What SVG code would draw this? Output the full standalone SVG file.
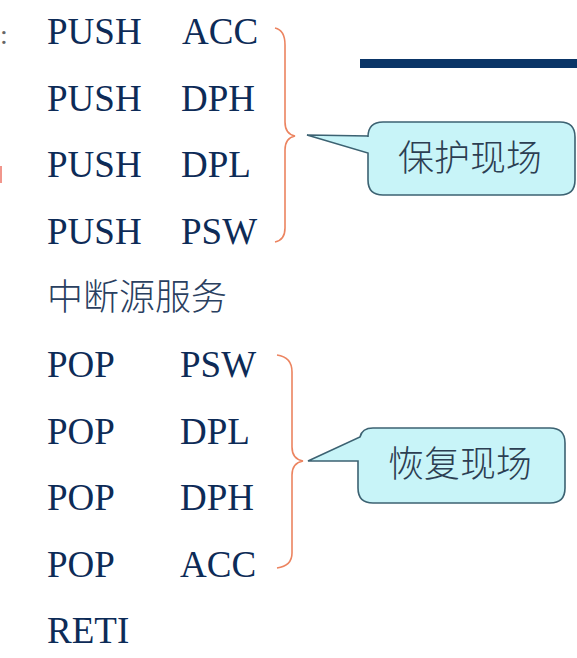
<svg xmlns="http://www.w3.org/2000/svg" width="577" height="658" viewBox="0 0 577 658">
<style>
.code{font-size:37px;fill:#0d2b57;}
.cn{font-family:"Noto Sans CJK SC",sans-serif;font-size:36px;fill:#2a4060;font-weight:300;}
.brace{fill:none;stroke:#ec8460;stroke-width:1.6;}
.callout{fill:#c8f4f8;stroke:#3c6272;stroke-width:1.6;}
.lbl{font-family:"Noto Sans CJK SC",sans-serif;font-size:36px;fill:#2c3e52;font-weight:300;}
</style>
<rect width="577" height="658" fill="#ffffff"/>
<text x="0" y="44" font-family="Liberation Serif, serif" font-size="28" fill="#666666">:</text>
<rect x="-2" y="166" width="4" height="17" fill="#e85040" opacity="0.6"/>
<rect x="360" y="59" width="217" height="9" fill="#0a3567"/>
<g id="code" font-family="Liberation Serif, Times New Roman, serif">
<text class="code" x="47" y="44">PUSH</text><text class="code" x="182" y="44">ACC</text>
<text class="code" x="47" y="111">PUSH</text><text class="code" x="181" y="111">DPH</text>
<text class="code" x="47" y="177">PUSH</text><text class="code" x="181" y="177">DPL</text>
<text class="code" x="47" y="244">PUSH</text><text class="code" x="181" y="244">PSW</text>
<text class="cn" x="47" y="310">中断源服务</text>
<text class="code" x="47" y="377">POP</text><text class="code" x="180" y="377">PSW</text>
<text class="code" x="47" y="444">POP</text><text class="code" x="180" y="444">DPL</text>
<text class="code" x="47" y="510">POP</text><text class="code" x="180" y="510">DPH</text>
<text class="code" x="47" y="577">POP</text><text class="code" x="180" y="577">ACC</text>
<text class="code" x="47" y="643">RETI</text>
</g>
<g id="connectors">
<path class="brace" d="M275,28 Q285,30 285,45 L285,122 Q285,134 295,136 Q285,138 285,150 L285,228 Q285,240 275,242"/>
<path class="brace" d="M277,355 Q292,357 292,372 L292,447 Q292,459 303,461 Q292,463 292,475 L292,553 Q292,566 277,568"/>
</g>
<g id="callout1">
<path class="callout" d="M383,122 L560,122 Q575,122 575,137 L575,180 Q575,195 560,195 L383,195 Q368,195 368,180 L368,153 L307,135 L368,136 L368,137 Q368,122 383,122 Z"/>
<text class="lbl" x="398" y="171">保护现场</text>
</g>
<g id="callout2">
<path class="callout" d="M373,428 L550,428 Q565,428 565,443 L565,488 Q565,503 550,503 L373,503 Q358,503 358,488 L358,461 L308,461 L360,437 Q362,428 373,428 Z"/>
<text class="lbl" x="388" y="477">恢复现场</text>
</g>
</svg>
